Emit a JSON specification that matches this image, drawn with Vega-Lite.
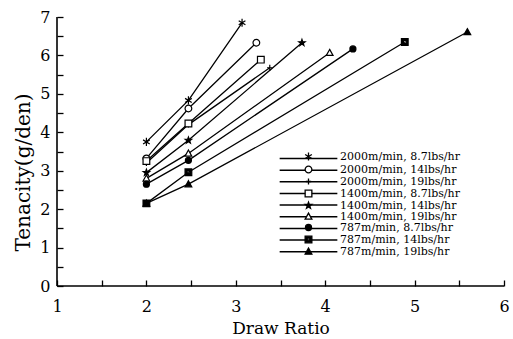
{
  "$schema": "https://vega.github.io/schema/vega-lite/v6.json",
  "width": 447,
  "height": 269,
  "autosize": "none",
  "padding": {"left": 57, "top": 17, "right": 9, "bottom": 53},
  "background": "white",
  "config": {
    "view": {"stroke": null},
    "font": "DejaVu Serif",
    "axis": {"grid": false, "tickColor": "black", "tickWidth": 1.3, "labelColor": "black", "titleColor": "black", "labelFont": "DejaVu Serif", "titleFont": "DejaVu Serif", "titleFontWeight": "normal"}
  },
  "datasets": {
    "points": [
      {"series": "2000m/min, 8.7lbs/hr", "ratio": 2, "tenacity": 3.75},
      {"series": "2000m/min, 8.7lbs/hr", "ratio": 2.47, "tenacity": 4.83},
      {"series": "2000m/min, 8.7lbs/hr", "ratio": 3.07, "tenacity": 6.85},
      {"series": "2000m/min, 14lbs/hr", "ratio": 2, "tenacity": 3.32},
      {"series": "2000m/min, 14lbs/hr", "ratio": 2.47, "tenacity": 4.62},
      {"series": "2000m/min, 14lbs/hr", "ratio": 3.23, "tenacity": 6.33},
      {"series": "2000m/min, 19lbs/hr", "ratio": 2, "tenacity": 3.2},
      {"series": "2000m/min, 19lbs/hr", "ratio": 2.47, "tenacity": 4.2},
      {"series": "2000m/min, 19lbs/hr", "ratio": 3.38, "tenacity": 5.68},
      {"series": "1400m/min, 8.7lbs/hr", "ratio": 2, "tenacity": 3.25},
      {"series": "1400m/min, 8.7lbs/hr", "ratio": 2.47, "tenacity": 4.23},
      {"series": "1400m/min, 8.7lbs/hr", "ratio": 3.28, "tenacity": 5.89},
      {"series": "1400m/min, 14lbs/hr", "ratio": 2, "tenacity": 2.95},
      {"series": "1400m/min, 14lbs/hr", "ratio": 2.47, "tenacity": 3.79},
      {"series": "1400m/min, 14lbs/hr", "ratio": 3.74, "tenacity": 6.33},
      {"series": "1400m/min, 19lbs/hr", "ratio": 2, "tenacity": 2.8},
      {"series": "1400m/min, 19lbs/hr", "ratio": 2.47, "tenacity": 3.45},
      {"series": "1400m/min, 19lbs/hr", "ratio": 4.05, "tenacity": 6.07},
      {"series": "787m/min, 8.7lbs/hr", "ratio": 2, "tenacity": 2.65},
      {"series": "787m/min, 8.7lbs/hr", "ratio": 2.47, "tenacity": 3.27},
      {"series": "787m/min, 8.7lbs/hr", "ratio": 4.31, "tenacity": 6.17},
      {"series": "787m/min, 14lbs/hr", "ratio": 2, "tenacity": 2.15},
      {"series": "787m/min, 14lbs/hr", "ratio": 2.47, "tenacity": 2.96},
      {"series": "787m/min, 14lbs/hr", "ratio": 4.89, "tenacity": 6.35},
      {"series": "787m/min, 19lbs/hr", "ratio": 2, "tenacity": 2.15},
      {"series": "787m/min, 19lbs/hr", "ratio": 2.47, "tenacity": 2.65},
      {"series": "787m/min, 19lbs/hr", "ratio": 5.59, "tenacity": 6.61}
    ],
    "frame": [{"ratio": 1, "tenacity": 0, "ratio_end": 6, "tenacity_end": 7}]
  },
  "encoding": {
    "x": {
      "field": "ratio", "type": "quantitative",
      "scale": {"domain": [1, 6], "nice": false, "zero": false},
      "axis": {
        "domain": false,
        "title": "Draw Ratio", "titleFontSize": 17, "titlePadding": 6,
        "values": [1, 1.5, 2, 2.5, 3, 3.5, 4, 4.5, 5, 5.5, 6],
        "labelExpr": "datum.value % 1 ? '' : '' + datum.value",
        "labelFontSize": 16, "labelPadding": 18, "labelFlush": false, "labelOverlap": false,
        "tickSize": -6,
        "encode": {"ticks": {"y2": {"value": {"expr": "datum.value % 1 ? -3 : -6"}}}}
      }
    },
    "y": {
      "field": "tenacity", "type": "quantitative",
      "scale": {"domain": [0, 7], "nice": false},
      "axis": {
        "domain": false,
        "title": "Tenacity(g/den)", "titleFontSize": 20, "titlePadding": 6, "titleY": 155,
        "values": [0, 0.5, 1, 1.5, 2, 2.5, 3, 3.5, 4, 4.5, 5, 5.5, 6, 6.5, 7],
        "labelExpr": "datum.value % 1 ? '' : '' + datum.value",
        "labelFontSize": 16, "labelPadding": 13, "labelFlush": false, "labelOverlap": false,
        "tickSize": -6,
        "encode": {"ticks": {"x2": {"value": {"expr": "datum.value % 1 ? 3 : 6"}}}}
      }
    }
  },
  "layer": [
    {
      "data": {"name": "frame"},
      "mark": {"type": "rule", "color": "black", "strokeWidth": 1.6},
      "encoding": {"y2": {"field": "tenacity_end"}}
    },
    {
      "data": {"name": "frame"},
      "mark": {"type": "rule", "color": "black", "strokeWidth": 1.6},
      "encoding": {"x2": {"field": "ratio_end"}}
    },
    {
      "data": {"name": "points"},
      "mark": {"type": "line", "strokeWidth": 1.3},
      "encoding": {
        "stroke": {
          "field": "series", "type": "nominal",
          "scale": {
            "domain": ["787m/min, 19lbs/hr", "787m/min, 14lbs/hr", "787m/min, 8.7lbs/hr", "1400m/min, 19lbs/hr", "1400m/min, 14lbs/hr", "1400m/min, 8.7lbs/hr", "2000m/min, 19lbs/hr", "2000m/min, 14lbs/hr", "2000m/min, 8.7lbs/hr"],
            "range": ["black", "black", "black", "black", "black", "black", "black", "black", "black"]
          },
          "legend": {
            "title": null, "orient": "none", "legendX": 246, "legendY": 136, "zindex": 0,
            "values": ["2000m/min, 8.7lbs/hr", "2000m/min, 14lbs/hr", "2000m/min, 19lbs/hr", "1400m/min, 8.7lbs/hr", "1400m/min, 14lbs/hr", "1400m/min, 19lbs/hr", "787m/min, 8.7lbs/hr", "787m/min, 14lbs/hr", "787m/min, 19lbs/hr"],
            "symbolType": "M-8.6,0H8.6", "symbolSize": 45, "symbolStrokeWidth": 1.5,
            "labelFont": "DejaVu Serif", "labelFontSize": 11, "labelOpacity": 0,
            "labelOffset": 26, "rowPadding": -0.35, "padding": 0
          }
        }
      }
    },
    {
      "data": {"name": "points"},
      "mark": {"type": "point", "filled": true, "stroke": "black", "strokeWidth": 1.2, "opacity": 1, "size": 45},
      "encoding": {
        "shape": {
          "field": "series", "type": "nominal",
          "scale": {
            "domain": ["2000m/min, 8.7lbs/hr", "2000m/min, 14lbs/hr", "2000m/min, 19lbs/hr", "1400m/min, 8.7lbs/hr", "1400m/min, 14lbs/hr", "1400m/min, 19lbs/hr", "787m/min, 8.7lbs/hr", "787m/min, 14lbs/hr", "787m/min, 19lbs/hr"],
            "range": [
              "M0,-1.2V1.2M-1,-0.6L1,0.6M-1,0.6L1,-0.6",
              "M1,0A1,1,0,1,1,-1,0A1,1,0,1,1,1,0Z",
              "M-0.8,0H0.8M0,-0.9V0.9",
              "M-1,-1H1V1H-1Z",
              "M0,-1L0.235,-0.324L0.951,-0.309L0.38,0.124L0.588,0.809L0,0.4L-0.588,0.809L-0.38,0.124L-0.951,-0.309L-0.235,-0.324Z",
              "M0,-1L1,0.8H-1Z",
              "M0.9,0A0.9,0.9,0,1,1,-0.9,0A0.9,0.9,0,1,1,0.9,0Z",
              "M-1,-1H1V1H-1ZM-0.4,-0.4V0.4H0.4V-0.4Z",
              "M0,-1L1,0.8H-1Z"
            ]
          },
          "legend": {
            "title": null, "orient": "none", "legendX": 246, "legendY": 134, "zindex": 1,
            "symbolSize": 45, "symbolStrokeWidth": 1.3,
            "labelFont": "DejaVu Serif", "labelFontSize": 11, "labelColor": "black",
            "labelOffset": 26, "rowPadding": -1.25, "padding": 0
          }
        },
        "fill": {
          "field": "series", "type": "nominal",
          "scale": {
            "domain": ["2000m/min, 8.7lbs/hr", "2000m/min, 14lbs/hr", "2000m/min, 19lbs/hr", "1400m/min, 8.7lbs/hr", "1400m/min, 14lbs/hr", "1400m/min, 19lbs/hr", "787m/min, 8.7lbs/hr", "787m/min, 14lbs/hr", "787m/min, 19lbs/hr"],
            "range": ["white", "white", "white", "white", "black", "white", "black", "black", "black"]
          },
          "legend": {
            "title": null, "orient": "none", "legendX": 246, "legendY": 134, "zindex": 1,
            "symbolSize": 45, "symbolStrokeWidth": 1.3,
            "labelFont": "DejaVu Serif", "labelFontSize": 11, "labelColor": "black",
            "labelOffset": 26, "rowPadding": -1.25, "padding": 0
          }
        }
      }
    }
  ]
}
